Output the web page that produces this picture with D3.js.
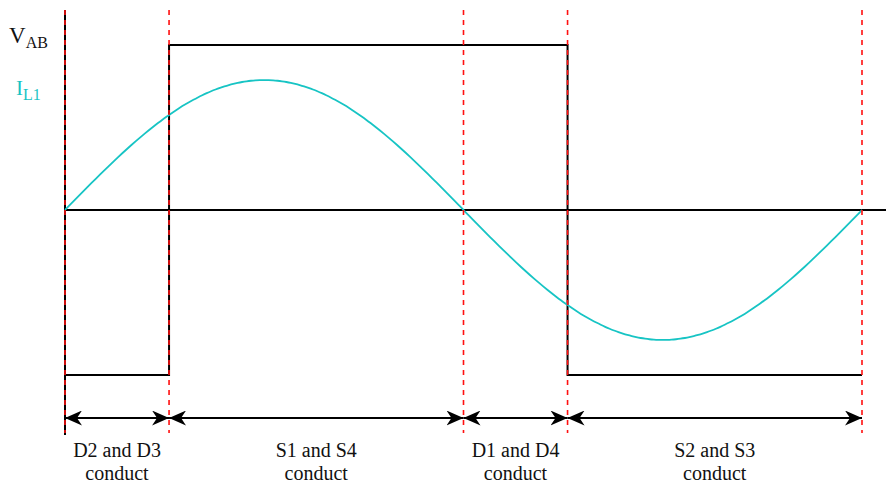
<!DOCTYPE html>
<html>
<head>
<meta charset="utf-8">
<script src="https://cdn.jsdelivr.net/npm/d3@7"></script>
<style>
  body { margin: 0; background: #fff; }
  svg { display: block; }
  text { font-family: "Liberation Serif", "Times New Roman", Times, "DejaVu Serif", serif; }
</style>
</head>
<body>
<svg id="drawing_region"></svg>
<script>
// phase (degrees) where the conduction intervals begin / end
const boundaries = [0, 47, 180, 227, 360];
// square wave V_AB: [start, end, level]
const vabSegments = [[0, 47, -1.27], [47, 227, 1.27], [227, 360, -1.27]];
// current I_L1 amplitude and sampled phases
const currentAmp = 1.0;
const phases = d3.range(0, 361, 2);
const intervalLabels = ["D2 and D3", "S1 and S4", "D1 and D4", "S2 and S3"];

const config = { width: 886, height: 488 };
const serif = '"Liberation Serif", "Times New Roman", Times, "DejaVu Serif", serif';

const svg = d3.select('#drawing_region')
  .attr('width', config.width)
  .attr('height', config.height);

const xscale = d3.scaleLinear().domain([0, 360]).range([65, 862]);
const yscale = d3.scaleLinear().domain([-1, 1]).range([340, 80]);

// arrow marker
const defs = svg.append('defs');
defs.append('marker')
  .attr('id', 'arrow')
  .attr('viewBox', '0 0 17 15')
  .attr('refX', 17).attr('refY', 7.5)
  .attr('markerWidth', 17).attr('markerHeight', 15)
  .attr('markerUnits', 'userSpaceOnUse')
  .attr('orient', 'auto-start-reverse')
  .append('path')
  .attr('d', 'M0,0 L17,7.5 L0,15 L5,7.5 Z')
  .attr('fill', '#000');

// horizontal axis and left vertical axis
svg.append('line')
  .attr('x1', xscale(0)).attr('x2', config.width)
  .attr('y1', yscale(0)).attr('y2', yscale(0))
  .attr('stroke', '#000').attr('stroke-width', 2);
svg.append('line')
  .attr('x1', xscale(0)).attr('x2', xscale(0))
  .attr('y1', 10).attr('y2', 435)
  .attr('stroke', '#000').attr('stroke-width', 2);

// square wave V_AB
const vabPts = [];
vabSegments.forEach(s => { vabPts.push([s[0], s[2]]); vabPts.push([s[1], s[2]]); });
svg.append('path')
  .datum(vabPts)
  .attr('d', d3.line().x(d => xscale(d[0])).y(d => yscale(d[1])))
  .attr('fill', 'none')
  .attr('stroke', '#000')
  .attr('stroke-width', 2);

// current I_L1
svg.append('path')
  .datum(phases)
  .attr('d', d3.line().x(d => xscale(d)).y(d => yscale(currentAmp * Math.sin(d * Math.PI / 180))).curve(d3.curveBasis))
  .attr('fill', 'none')
  .attr('stroke', '#17c4c4')
  .attr('stroke-width', 1.8);

// red dashed boundaries
svg.selectAll('line.bound')
  .data(boundaries)
  .join('line')
  .attr('class', 'bound')
  .attr('x1', d => xscale(d)).attr('x2', d => xscale(d))
  .attr('y1', 10).attr('y2', 433)
  .attr('stroke', '#ff1010')
  .attr('stroke-width', 1.6)
  .attr('stroke-dasharray', '5,5');

// arrows and labels
const arrowY = 418;
for (let i = 0; i < boundaries.length - 1; i++) {
  const a = xscale(boundaries[i]), b = xscale(boundaries[i + 1]);
  svg.append('line')
    .attr('x1', a).attr('x2', b)
    .attr('y1', arrowY).attr('y2', arrowY)
    .attr('stroke', '#000').attr('stroke-width', 2)
    .attr('marker-start', 'url(#arrow)')
    .attr('marker-end', 'url(#arrow)');
  const t = svg.append('text')
    .attr('x', (a + b) / 2)
    .attr('text-anchor', 'middle')
    .attr('font-family', serif)
    .attr('font-size', 20)
    .attr('fill', '#111');
  t.append('tspan').attr('x', (a + b) / 2).attr('y', 457).text(intervalLabels[i]);
  t.append('tspan').attr('x', (a + b) / 2).attr('y', 480).text('conduct');
}

// V_AB label
const vab = svg.append('text').attr('x', 9).attr('y', 43).attr('fill', '#111')
  .attr('font-family', serif).attr('font-size', 23);
vab.append('tspan').text('V');
vab.append('tspan').attr('font-size', 16).attr('dy', 5).text('AB');

// I_L1 label
const il = svg.append('text').attr('x', 16).attr('y', 95).attr('fill', '#17c4c4')
  .attr('font-family', serif).attr('font-size', 21);
il.append('tspan').text('I');
il.append('tspan').attr('font-size', 16).attr('dy', 5).text('L1');
</script>
</body>
</html>
